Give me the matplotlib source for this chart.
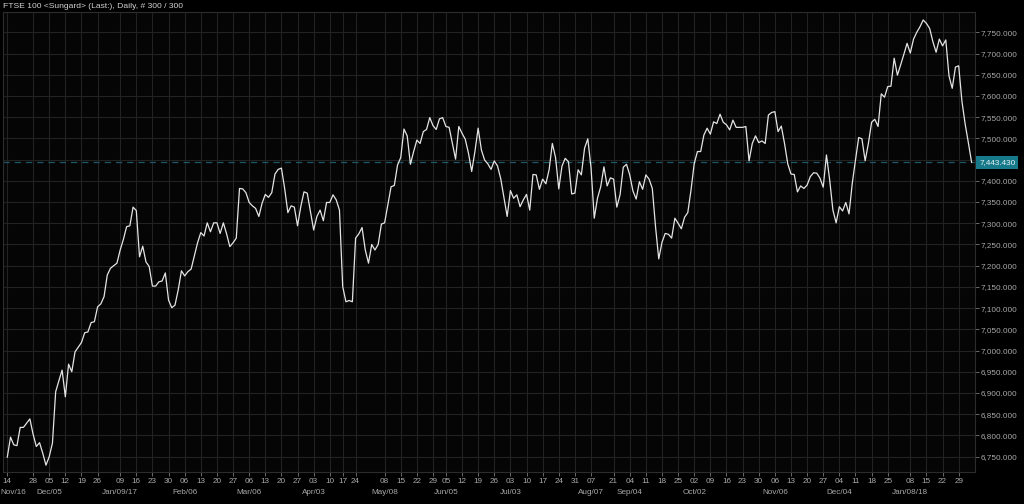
import numpy as np
import matplotlib
matplotlib.use("Agg")
import matplotlib.pyplot as plt
from matplotlib.ticker import FuncFormatter

plt.rcParams['font.family'] = ['Liberation Sans', 'DejaVu Sans']

# FTSE 100 daily closes, 300 sessions (mid Nov 2016 -> 2 Feb 2018)
closes_nov16_jan17 = [6749, 6796, 6778, 6776, 6819, 6819, 6829, 6839, 6803, 6774,
                      6783, 6758, 6730, 6750, 6782, 6903, 6929, 6954, 6891, 6968,
                      6950, 6997, 7008, 7019, 7042, 7044, 7066, 7068, 7103, 7110,
                      7127, 7178, 7194, 7200, 7206, 7237, 7262, 7292, 7294, 7338,
                      7330, 7221, 7246, 7209, 7198, 7152, 7152, 7162, 7164, 7183]
closes_jan17_apr17 = [7119, 7101, 7107, 7143, 7188, 7176, 7186, 7192, 7223, 7254,
                      7278, 7270, 7301, 7280, 7301, 7301, 7276, 7301, 7275, 7245,
                      7254, 7265, 7382, 7381, 7372, 7349, 7341, 7335, 7316, 7347,
                      7368, 7361, 7372, 7416, 7427, 7430, 7382, 7325, 7341, 7338,
                      7294, 7339, 7374, 7371, 7327, 7284, 7316, 7331, 7306, 7349]
closes_apr17_jun17 = [7349, 7367, 7355, 7331, 7151, 7115, 7118, 7115, 7265, 7275,
                      7290, 7237, 7206, 7250, 7237, 7250, 7298, 7301, 7343, 7386,
                      7389, 7437, 7455, 7522, 7506, 7439, 7469, 7496, 7488, 7516,
                      7521, 7549, 7530, 7521, 7546, 7549, 7528, 7526, 7488, 7451,
                      7528, 7512, 7498, 7465, 7422, 7469, 7524, 7473, 7449, 7440]
closes_jun17_sep17 = [7427, 7447, 7435, 7405, 7360, 7316, 7377, 7359, 7367, 7339,
                      7355, 7368, 7331, 7415, 7414, 7380, 7404, 7393, 7426, 7488,
                      7455, 7381, 7435, 7453, 7445, 7369, 7371, 7426, 7414, 7477,
                      7499, 7431, 7312, 7359, 7386, 7433, 7388, 7407, 7404, 7338,
                      7367, 7432, 7439, 7414, 7376, 7357, 7398, 7380, 7414, 7404]
closes_sep17_nov17 = [7382, 7292, 7216, 7255, 7276, 7274, 7265, 7312, 7300, 7287,
                      7314, 7325, 7378, 7441, 7469, 7469, 7508, 7524, 7510, 7539,
                      7535, 7557, 7538, 7532, 7520, 7543, 7526, 7526, 7526, 7528,
                      7447, 7488, 7506, 7490, 7494, 7488, 7555, 7561, 7563, 7516,
                      7529, 7488, 7440, 7416, 7415, 7374, 7388, 7382, 7390, 7410]
closes_nov17_feb18 = [7419, 7418, 7406, 7385, 7461, 7402, 7331, 7301, 7339, 7329,
                      7349, 7322, 7394, 7449, 7502, 7499, 7447, 7488, 7538, 7545,
                      7528, 7605, 7597, 7622, 7623, 7689, 7649, 7673, 7698, 7724,
                      7701, 7734, 7750, 7763, 7779, 7771, 7759, 7728, 7703, 7734,
                      7718, 7732, 7647, 7618, 7668, 7671, 7588, 7534, 7490, 7443.43]

closes = (closes_nov16_jan17 + closes_jan17_apr17 + closes_apr17_jun17
          + closes_jun17_sep17 + closes_sep17_nov17 + closes_nov17_feb18)
last_close = closes[-1]

# weekly ticks (session index of first trading day of each week)
week_idx = [0, 8, 13, 18, 23, 28, 35, 40, 45, 50, 55, 60, 65, 70, 75, 80, 85, 90,
            95, 100, 104, 108, 117, 122, 127, 132, 136, 141, 146, 151, 156, 161,
            166, 171, 176, 181, 188, 193, 198, 203, 208, 213, 218, 223, 228, 233,
            238, 243, 248, 253, 258, 263, 268, 273, 280, 285, 290, 295]
week_labels = ['14', '28', '05', '12', '19', '26', '09', '16', '23', '30', '06', '13',
               '20', '27', '06', '13', '20', '27', '03', '10', '17', '24', '08', '15',
               '22', '29', '05', '12', '19', '26', '03', '10', '17', '24', '31', '07',
               '21', '04', '11', '18', '25', '02', '09', '16', '23', '30', '06', '13',
               '20', '27', '04', '11', '18', '25', '08', '15', '22', '29']
month_idx = [0, 13, 35, 55, 75, 95, 117, 136, 156, 181, 193, 213, 238, 258, 280]
month_labels = ['Nov/16', 'Dec/05', 'Jan/09/17', 'Feb/06', 'Mar/06', 'Apr/03',
                'May/08', 'Jun/05', 'Jul/03', 'Aug/07', 'Sep/04', 'Oct/02',
                'Nov/06', 'Dec/04', 'Jan/08/18']
price_ticks = np.arange(6750, 7751, 50)

txt = '#a9a9a9'
fs = 5.9

fig = plt.figure(figsize=(10.24, 5.04), dpi=100, facecolor='black')
ax = fig.add_axes([3 / 1024, 32 / 504, 972 / 1024, 460 / 504])
ax.set_facecolor('#050505')

x = np.arange(len(closes))
ax.plot(x, closes, color='#e4e4e4', lw=0.9, zorder=3)
ax.axhline(last_close, color='#1d5866', lw=0.9, ls=(0, (5, 4)), zorder=2)

ax.set_xlim(-1.33, 300.06)
ax.set_ylim(6713.9, 7797.8)

ax.set_xticks(week_idx)
ax.set_xticklabels(week_labels)
ax.yaxis.tick_right()
ax.set_yticks(price_ticks)
ax.yaxis.set_major_formatter(FuncFormatter(lambda v, p: f"{v:,.3f}"))

ax.grid(True, color='#222222', lw=0.8, zorder=0)
ax.tick_params(axis='both', colors='#7a7a7a', labelcolor=txt, labelsize=fs,
               length=3, width=0.6)
ax.tick_params(axis='x', pad=1.5)
ax.tick_params(axis='y', pad=1)
for s in ax.spines.values():
    s.set_color('#2c2c2c')
    s.set_linewidth(0.8)

for i, (idx, lab) in enumerate(zip(month_idx, month_labels)):
    ax.annotate(lab, xy=(idx, 0), xycoords=('data', 'axes fraction'),
                xytext=(-5.3 if i == 0 else 0, -14.4), textcoords='offset points',
                ha='left' if i == 0 else 'center', va='center',
                color=txt, fontsize=fs, annotation_clip=False)

ax.annotate(f"{last_close:,.3f}", xy=(1, last_close), xycoords=('axes fraction', 'data'),
            xytext=(3.0, 0), textcoords='offset points', ha='left', va='center',
            color='#e6f3f5', fontsize=fs, zorder=10, annotation_clip=False,
            bbox=dict(boxstyle='square,pad=0.35', fc='#177a8a', ec='none'))

fig.text(0.003, 0.995, 'FTSE 100 <Sungard> (Last:), Daily, # 300 / 300',
         color='#d2d2d2', fontsize=6.1, ha='left', va='top')

fig.savefig('out.png', dpi=100, facecolor='black')
